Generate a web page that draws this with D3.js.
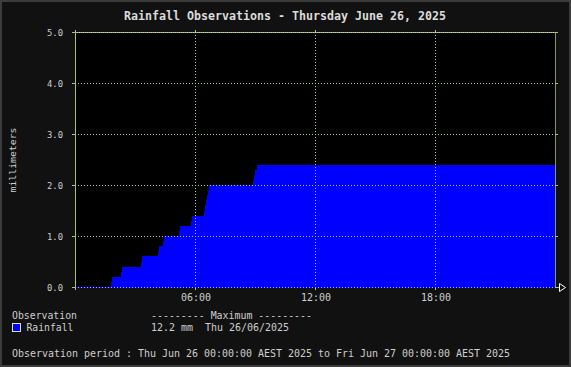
<!DOCTYPE html>
<html><head><meta charset="utf-8">
<script src="https://cdn.jsdelivr.net/npm/d3@7"></script>
<style>
html,body{margin:0;padding:0;background:#111;}
svg{display:block;}
text{font-family:"DejaVu Sans Mono","Liberation Mono",monospace;fill:#cfcfcf;white-space:pre;}
</style></head>
<body>
<svg id="c" width="571" height="367"></svg>
<script>
// ---- data ----
const title = "Rainfall Observations - Thursday June 26, 2025";
const yTicks = [0, 1, 2, 3, 4, 5];
const xTickHours = [6, 12, 18];
const xTickLabels = ["06:00", "12:00", "18:00"];
// time in hours since midnight, cumulative rainfall (mm)
const hours  = [0, 1.8, 1.85, 2.3, 2.35, 3.3, 3.35, 4.15, 4.2, 4.4, 4.45, 5.2, 5.25, 5.8, 5.85, 6.45, 6.5, 6.55, 6.6, 6.65, 6.7, 8.9, 8.95, 9.0, 9.1, 24];
const values = [0, 0.1, 0.2, 0.3, 0.4, 0.5, 0.6, 0.7, 0.8, 0.9, 1.0, 1.1, 1.2, 1.3, 1.4, 1.5, 1.6, 1.7, 1.8, 1.9, 2.0, 2.1, 2.2, 2.3, 2.4, 2.4];
const seriesName = "Rainfall";
const legendHeader = "Observation";
const maxHeader = "--------- Maximum ---------";
const maxText = "12.2 mm  Thu 26/06/2025";
const periodText = "Observation period : Thu Jun 26 00:00:00 AEST 2025 to Fri Jun 27 00:00:00 AEST 2025";

const svg = d3.select("#c");
const W = 571, H = 367;
const L = 75, R = 555, T = 32, B = 287;

// frame
svg.append("rect").attr("x",0).attr("y",0).attr("width",W).attr("height",H).attr("fill","#3c3c3c");
svg.append("rect").attr("x",2).attr("y",2).attr("width",W-4).attr("height",H-4).attr("fill","#111");

const x = d3.scaleLinear().domain([0,24]).range([L,R]);
const y = d3.scaleLinear().domain([0,5]).range([B,T]);

// plot bg
svg.append("rect").attr("x",L).attr("y",T).attr("width",R-L).attr("height",B-T).attr("fill","#000");

// area
const data = hours.map((h,i)=>({h, v: values[i]}));
const area = d3.area().x(d=>x(d.h)).y0(y(0)+1).y1(d=>y(d.v)).curve(d3.curveStepAfter);
svg.append("path").datum(data).attr("d", area).attr("fill","#0000ff").attr("shape-rendering","crispEdges");

// grid
const g = svg.append("g").attr("shape-rendering","crispEdges");
yTicks.filter(t=>t>0 && t<5).forEach(t=>{
  g.append("line").attr("x1",L).attr("x2",R).attr("y1",y(t)+0.5).attr("y2",y(t)+0.5)
   .attr("stroke","#a8d0a0").attr("stroke-dasharray","1,2");
});
xTickHours.forEach(h=>{
  g.append("line").attr("x1",x(h)+0.5).attr("x2",x(h)+0.5).attr("y1",T).attr("y2",B)
   .attr("stroke","#a8d0a0").attr("stroke-dasharray","1,2");
});
// top line
g.append("line").attr("x1",L).attr("x2",R+2).attr("y1",T+0.5).attr("y2",T+0.5).attr("stroke","#8fb050");
g.append("line").attr("x1",L).attr("x2",R+2).attr("y1",T+0.5).attr("y2",T+0.5).attr("stroke","#d8d8a0").attr("stroke-dasharray","1,1");
// zero line
g.append("line").attr("x1",L).attr("x2",R).attr("y1",B+0.5).attr("y2",B+0.5).attr("stroke","#0000ff");
g.append("line").attr("x1",L).attr("x2",R).attr("y1",B+0.5).attr("y2",B+0.5).attr("stroke","#b0b0ff").attr("stroke-dasharray","1,2");
// axes
g.append("line").attr("x1",L+0.5).attr("x2",L+0.5).attr("y1",T-2).attr("y2",B+3).attr("stroke","#a0c878");
g.append("line").attr("x1",R+0.5).attr("x2",R+0.5).attr("y1",T).attr("y2",B).attr("stroke","#8a9a40");
// y ticks
yTicks.forEach(t=>{
  g.append("line").attr("x1",L-3).attr("x2",L).attr("y1",y(t)+0.5).attr("y2",y(t)+0.5).attr("stroke","#a0c878");
  if (t>0) g.append("line").attr("x1",R).attr("x2",R+3).attr("y1",y(t)+0.5).attr("y2",y(t)+0.5).attr("stroke","#a0c878");
});
// x ticks
xTickHours.forEach(h=>{
  g.append("line").attr("x1",x(h)+0.5).attr("x2",x(h)+0.5).attr("y1",B+1).attr("y2",B+3).attr("stroke","#a0c878");
  g.append("line").attr("x1",x(h)+0.5).attr("x2",x(h)+0.5).attr("y1",T-2).attr("y2",T).attr("stroke","#a0c878");
});
// x arrow
g.append("line").attr("x1",R).attr("x2",R+5).attr("y1",B+0.5).attr("y2",B+0.5).attr("stroke","#a0c878");
svg.append("path").attr("d",`M${R+4.5},${B-3.5} L${R+4.5},${B+4.5} L${R+10.5},${B+0.5} Z`)
   .attr("fill","#111").attr("stroke","#ffffff").attr("stroke-width",1);

// text helpers
function txt(s, xx, yy, size, len, anchor, weight){
  return svg.append("text").attr("x",xx).attr("y",yy).attr("font-size",size)
    .attr("text-anchor",anchor||"start").attr("font-weight",weight||"normal")
    .attr("textLength",len).attr("lengthAdjust","spacingAndGlyphs").text(s);
}
txt(title, 124, 20, 13, 322, "start", "bold").style("fill","#dcdcdc");

yTicks.forEach(t=>{
  txt(d3.format(".1f")(t), 47, y(t)+3.5, 8.6, 16);
});
xTickLabels.forEach((s,i)=>{
  txt(s, x(xTickHours[i])+1, 301, 10, 30, "middle");
});
svg.append("text").attr("transform","translate(16,160) rotate(-90)").attr("font-size",9.5)
  .attr("text-anchor","middle").attr("textLength",65).attr("lengthAdjust","spacingAndGlyphs").text("millimeters");

// legend
txt(legendHeader, 12, 318.5, 10, 65);
txt(maxHeader, 151, 318.5, 10, 161);
svg.append("rect").attr("x",12.5).attr("y",323.5).attr("width",8).attr("height",8)
   .attr("fill","#0000ff").attr("stroke","#dddddd").attr("stroke-width",1).attr("shape-rendering","crispEdges");
txt(seriesName, 26.5, 331, 10, 47);
txt(maxText, 151, 331, 10, 138);
txt(periodText, 12, 357, 10, 498);
</script>
</body></html>
